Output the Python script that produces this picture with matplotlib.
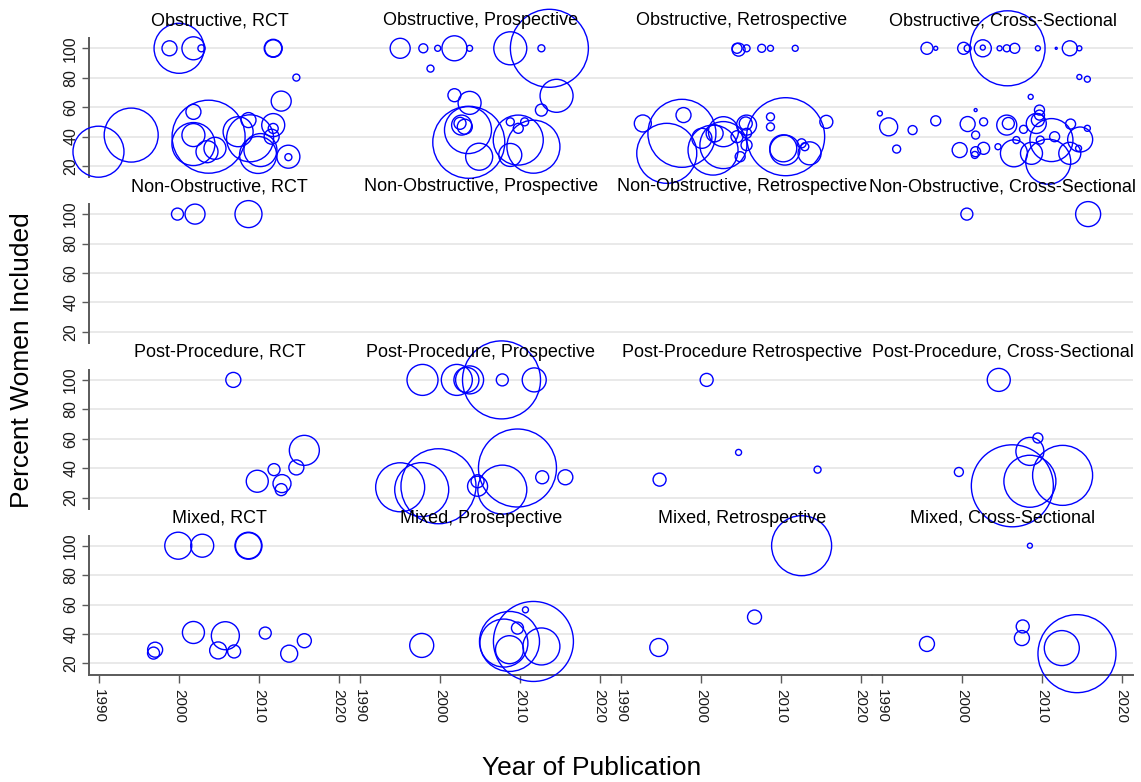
import matplotlib
matplotlib.use("Agg")
import matplotlib.pyplot as plt
import numpy as np

plt.rcParams['font.family'] = ['Liberation Sans', 'DejaVu Sans']

# ---------------- data ----------------
row_names = ["Obstructive", "Non-Obstructive", "Post-Procedure", "Mixed"]
col_names = ["RCT", "Prospective", "Retrospective", "Cross-Sectional"]
panel_titles = [
    ["Obstructive, RCT", "Obstructive, Prospective", "Obstructive, Retrospective", "Obstructive, Cross-Sectional"],
    ["Non-Obstructive, RCT", "Non-Obstructive, Prospective", "Non-Obstructive, Retrospective", "Non-Obstructive, Cross-Sectional"],
    ["Post-Procedure, RCT", "Post-Procedure, Prospective", "Post-Procedure Retrospective", "Post-Procedure, Cross-Sectional"],
    ["Mixed, RCT", "Mixed, Prosepective", "Mixed, Retrospective", "Mixed, Cross-Sectional"],
]
x_ticks = [1990, 2000, 2010, 2020]
y_ticks = [20, 40, 60, 80, 100]

# Obstructive
obs_rct_year = [1989.9, 1994.0, 2000.0, 1998.8, 2001.8, 2002.8, 2011.8, 2011.8, 2014.7, 2012.8, 2003.7, 2001.8, 2001.8,
                2001.8, 2003.5, 2004.5, 2007.4, 2008.9, 2008.7, 2009.9, 2010.2, 2011.8, 2011.8, 2011.6, 2013.7, 2013.7]
obs_rct_pct = [29.7, 41.0, 100, 100, 100, 100, 100, 100, 80.1, 64.1, 39.9, 56.8, 41.0,
               34.9, 29.7, 32.0, 43.3, 38.8, 51.2, 27.5, 30.8, 47.8, 45.5, 39.9, 26.3, 26.0]
obs_rct_n = [2601, 2916, 2500, 225, 529, 49, 324, 289, 49, 400, 5329, 225, 529,
             1849, 484, 484, 900, 2209, 225, 1369, 1089, 529, 100, 225, 529, 49]

obs_pro_year = [1995.0, 1997.9, 1998.8, 1999.7, 2001.8, 2003.7, 2008.8, 2012.7, 2013.7, 2014.6, 2012.7, 2001.8, 2003.7,
                2003.5, 2002.7, 2003.1, 2002.5, 2003.6, 2004.9, 2009.8, 2011.7, 2008.8, 2008.8, 2009.8, 2010.6]
obs_pro_pct = [100, 100, 86.2, 100, 100, 100, 100, 100, 100, 67.7, 58.0, 68.1, 62.9,
               44.4, 47.8, 46.7, 49.0, 36.1, 26.3, 37.6, 33.1, 27.5, 50.0, 45.6, 50.0]
obs_pro_n = [400, 81, 49, 36, 625, 36, 1089, 49, 6084, 1089, 144, 169, 529,
             2209, 400, 225, 144, 5184, 729, 2500, 2809, 529, 64, 100, 64]

obs_ret_year = [2004.5, 2004.7, 2005.7, 2007.6, 2008.7, 2011.8, 1992.7, 1997.8, 1997.6, 1995.7, 2001.5, 2002.8, 2002.8,
                2001.7, 2005.7, 2005.6, 2005.7, 2005.7, 2004.9, 2004.5, 2010.6, 2008.7, 2008.7, 2015.7, 2010.5, 2010.3,
                2013.6, 2012.6, 2013.0, 2000.1]
obs_ret_pct = [100, 99.1, 100, 100, 100, 100, 48.9, 54.6, 42.2, 28.6, 30.8, 34.2, 43.3,
               42.2, 47.8, 48.9, 42.2, 34.2, 26.3, 39.9, 39.9, 53.4, 46.6, 50.0, 30.8, 32.0,
               28.6, 35.4, 33.1, 38.8]
obs_ret_n = [100, 169, 49, 64, 36, 36, 289, 225, 4624, 3600, 2500, 2209, 900,
             289, 400, 169, 100, 121, 100, 144, 6084, 64, 64, 169, 900, 729,
             529, 81, 64, 400]

obs_cs_year = [1995.6, 1996.7, 2000.2, 2000.7, 2002.6, 2002.6, 2004.7, 2005.6, 2006.6, 2005.7, 2009.5, 2011.8, 2013.5,
               2014.7, 2014.7, 2015.7, 2008.6, 1989.7, 1990.8, 1991.8, 1993.8, 1996.7, 1999.7, 2000.7, 2001.7, 2001.7,
               2001.7, 2001.6, 2002.7, 2002.7, 2004.5, 2005.6, 2005.8, 2006.8, 2006.5, 2007.7, 2008.7, 2009.7, 2009.7,
               2009.5, 2009.3, 2011.2, 2010.8, 2011.6, 2009.8, 2013.6, 2014.8, 2013.5, 2014.6, 2015.7]
obs_cs_pct = [100, 100, 100, 100, 100, 100.5, 100, 100, 100, 100, 100, 100, 100,
              100, 80.5, 79.0, 67.0, 55.7, 46.6, 31.5, 44.4, 50.7, 30.8, 48.5, 58.0, 41.0,
              29.7, 27.5, 50.0, 32.0, 33.1, 47.8, 48.9, 37.6, 28.6, 44.9, 28.6, 58.0, 54.6,
              51.2, 48.9, 37.6, 22.9, 39.9, 37.6, 48.5, 38.0, 28.6, 32.0, 45.6]
obs_cs_n = [144, 16, 144, 49, 289, 25, 25, 49, 100, 5625, 25, 4, 225,
            25, 25, 36, 25, 25, 324, 64, 81, 100, 225, 225, 9, 64,
            100, 49, 64, 144, 36, 400, 144, 49, 729, 64, 484, 100, 100,
            169, 400, 1849, 2025, 100, 64, 100, 625, 484, 36, 36]

# Non-Obstructive
non_rct_year = [1999.8, 2002.0, 2008.7]
non_rct_pct = [100, 100, 100]
non_rct_n = [144, 400, 729]
non_pro_year, non_pro_pct, non_pro_n = [], [], []
non_ret_year, non_ret_pct, non_ret_n = [], [], []
non_cs_year = [2000.6, 2015.8]
non_cs_pct = [100, 100]
non_cs_n = [144, 625]

# Post-Procedure
post_rct_year = [2006.8, 2009.8, 2011.9, 2012.9, 2012.8, 2014.7, 2015.7]
post_rct_pct = [100, 31.1, 39.0, 29.5, 25.4, 40.5, 52.1]
post_rct_n = [225, 484, 144, 324, 144, 225, 900]

post_pro_year = [1997.8, 2002.1, 2003.7, 2003.3, 2007.7, 2007.8, 2011.8, 1995.0, 1997.7, 1999.8, 2004.7, 2004.7,
                 2007.8, 2009.7, 2012.8, 2015.7]
post_pro_pct = [100, 100, 100, 100, 100, 100, 100, 27.0, 25.4, 27.7, 31.1, 27.7,
                25.4, 40.1, 33.8, 33.8]
post_pro_n = [961, 961, 784, 625, 6084, 144, 576, 2401, 2916, 5625, 169, 400,
              2401, 6084, 169, 225]

post_ret_year = [2000.7, 1994.8, 2004.7, 2014.6]
post_ret_pct = [100, 32.2, 50.7, 39.0]
post_ret_n = [169, 169, 36, 49]

post_cs_year = [2004.6, 1999.6, 2009.5, 2008.5, 2006.3, 2008.5, 2012.6]
post_cs_pct = [100, 37.4, 60.5, 51.4, 28.0, 31.1, 35.1]
post_cs_n = [529, 81, 100, 784, 6724, 2704, 3600]

# Mixed
mix_rct_year = [1999.9, 2002.9, 2008.7, 2008.7, 1997.0, 1996.8, 2001.8, 2005.8, 2004.9, 2006.9, 2010.8, 2013.8, 2015.7]
mix_rct_pct = [100, 100, 100, 100, 29.3, 27.0, 41.0, 38.8, 28.8, 28.1, 40.6, 26.6, 35.4]
mix_rct_n = [729, 529, 729, 676, 225, 144, 484, 784, 289, 169, 144, 289, 196]

mix_pro_year = [1997.7, 2008.7, 2011.7, 2008.7, 2009.7, 2010.7, 2012.7, 2008.0]
mix_pro_pct = [32.2, 34.9, 34.9, 29.3, 44.0, 56.4, 31.5, 33.8]
mix_pro_n = [576, 3600, 6400, 784, 144, 36, 1369, 2304]

mix_ret_year = [2012.6, 2006.7, 1994.7]
mix_ret_pct = [100, 51.5, 30.8]
mix_ret_n = [3600, 196, 324]

mix_cs_year = [2008.5, 2007.6, 2007.5, 1995.6, 2012.5, 2014.4]
mix_cs_pct = [100, 45.1, 37.2, 33.2, 30.4, 26.6]
mix_cs_n = [25, 169, 225, 225, 1225, 6084]

panels = [
    [(obs_rct_year, obs_rct_pct, obs_rct_n), (obs_pro_year, obs_pro_pct, obs_pro_n),
     (obs_ret_year, obs_ret_pct, obs_ret_n), (obs_cs_year, obs_cs_pct, obs_cs_n)],
    [(non_rct_year, non_rct_pct, non_rct_n), (non_pro_year, non_pro_pct, non_pro_n),
     (non_ret_year, non_ret_pct, non_ret_n), (non_cs_year, non_cs_pct, non_cs_n)],
    [(post_rct_year, post_rct_pct, post_rct_n), (post_pro_year, post_pro_pct, post_pro_n),
     (post_ret_year, post_ret_pct, post_ret_n), (post_cs_year, post_cs_pct, post_cs_n)],
    [(mix_rct_year, mix_rct_pct, mix_rct_n), (mix_pro_year, mix_pro_pct, mix_pro_n),
     (mix_ret_year, mix_ret_pct, mix_ret_n), (mix_cs_year, mix_cs_pct, mix_cs_n)],
]

# ---------------- layout ----------------
W, H = 1141, 782
fig = plt.figure(figsize=(W / 100, H / 100), dpi=100)
fig.patch.set_facecolor('white')

left0, col_w = 89.3, 261.0
top0, row_step, row_h = 38.3, 165.8, 139.0
size_scale = 0.5184  # bubble area scale (points^2 per unit)

grid_col = '#e9e9e9'
axis_col = '#5a5a5a'
txt_col = '#1a1a1a'

for r in range(4):
    for c in range(4):
        lx = left0 + c * col_w
        ty = top0 + r * row_step
        ax = fig.add_axes([lx / W, 1 - (ty + row_h) / H, col_w / W, row_h / H])
        ax.set_facecolor('none')
        ax.set_xlim(1988.75, 2021.46)
        ax.set_ylim(12.3, 106.8)
        for yv in y_ticks:
            ax.axhline(yv, color=grid_col, lw=1.4, zorder=0)
        yr, pc, nn = panels[r][c]
        if len(yr):
            ax.scatter(yr, pc, s=np.array(nn) * size_scale, facecolors='none',
                       edgecolors='#0000ff', linewidths=1.0, clip_on=False, zorder=3)
        for sp in ax.spines.values():
            sp.set_visible(False)
        ax.set_yticks(y_ticks)
        ax.set_xticks(x_ticks)
        if c == 0:
            ax.spines['left'].set_visible(True)
            ax.spines['left'].set_color(axis_col)
            ax.spines['left'].set_linewidth(1.4)
            ax.tick_params(axis='y', length=5, width=1, color=axis_col, labelsize=11.5,
                           labelcolor=txt_col, pad=3)
            for lab in ax.get_yticklabels():
                lab.set_rotation(90)
                lab.set_va('center')
        else:
            ax.tick_params(axis='y', left=False, labelleft=False)
        if r == 3:
            ax.spines['bottom'].set_visible(True)
            ax.spines['bottom'].set_color(axis_col)
            ax.spines['bottom'].set_linewidth(1.4)
            ax.tick_params(axis='x', length=6, width=1, color=axis_col, labelsize=11,
                           labelcolor=txt_col, pad=4)
            for lab in ax.get_xticklabels():
                lab.set_rotation(270)
                lab.set_va('top')
        else:
            ax.tick_params(axis='x', bottom=False, labelbottom=False)
        ax.text(0.5, 1 + 17.5 / row_h, panel_titles[r][c], transform=ax.transAxes,
                ha='center', va='center', fontsize=13, color='black', zorder=5)

fig.text(22 / W, 1 - 360 / H, "Percent Women Included", rotation=90,
         ha='center', va='center', fontsize=19, color='black')
fig.text(592 / W, 1 - 768 / H, "Year of Publication", ha='center', va='center',
         fontsize=19, color='black')

fig.savefig("out.png", dpi=100, facecolor='white')
